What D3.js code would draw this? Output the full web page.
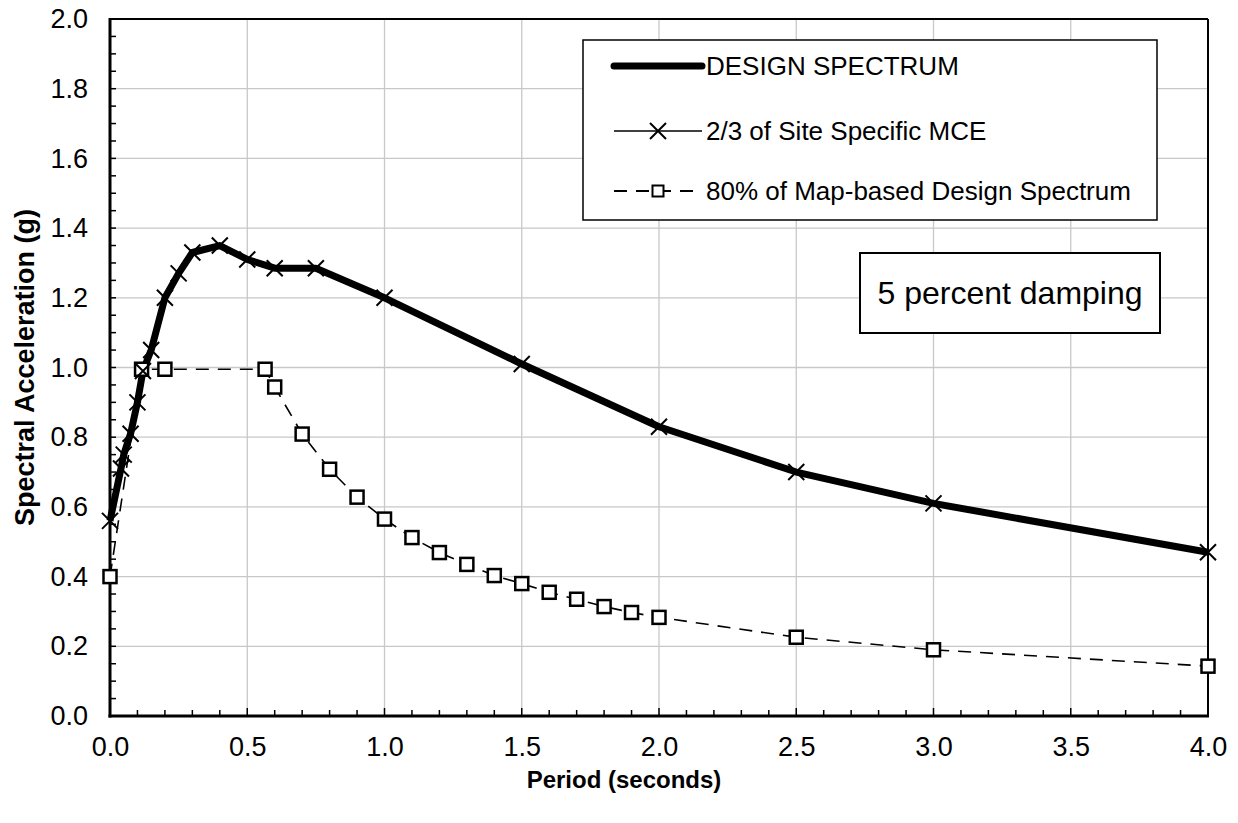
<!DOCTYPE html>
<html>
<head>
<meta charset="utf-8">
<script src="https://cdn.jsdelivr.net/npm/d3@7"></script>
<style>
  body { margin: 0; background: #fff; }
  svg { font-family: "Liberation Sans", Arial, sans-serif; }
</style>
</head>
<body>
<div id="chart"></div>
<script>
// data
const designPeriod = [0, 0.04, 0.05, 0.075, 0.1, 0.12, 0.15, 0.2, 0.25, 0.3, 0.4, 0.5, 0.6, 0.75, 1.0, 1.5, 2.0, 2.5, 3.0, 4.0];
const designSa     = [0.56, 0.71, 0.75, 0.81, 0.90, 0.99, 1.05, 1.20, 1.27, 1.33, 1.35, 1.31, 1.285, 1.285, 1.20, 1.01, 0.83, 0.70, 0.61, 0.47];

const mcePeriod = [0, 0.04, 0.05, 0.075, 0.1, 0.12, 0.15, 0.2, 0.25, 0.3, 0.4, 0.5, 0.6, 0.75, 1.0, 1.5, 2.0, 2.5, 3.0, 4.0];
const mceSa     = [0.56, 0.71, 0.75, 0.81, 0.90, 0.99, 1.05, 1.20, 1.27, 1.33, 1.35, 1.31, 1.285, 1.285, 1.20, 1.01, 0.83, 0.70, 0.61, 0.47];

const mapPeriod = [0, 0.115, 0.2, 0.565, 0.6, 0.7, 0.8, 0.9, 1.0, 1.1, 1.2, 1.3, 1.4, 1.5, 1.6, 1.7, 1.8, 1.9, 2.0, 2.5, 3.0, 4.0];
const mapSa     = [0.40, 0.995, 0.995, 0.995, 0.944, 0.809, 0.708, 0.628, 0.565, 0.512, 0.469, 0.435, 0.403, 0.38, 0.355, 0.335, 0.314, 0.297, 0.283, 0.226, 0.19, 0.143];

const xTicks = [0, 0.5, 1.0, 1.5, 2.0, 2.5, 3.0, 3.5, 4.0];
const yTicks = [0, 0.2, 0.4, 0.6, 0.8, 1.0, 1.2, 1.4, 1.6, 1.8, 2.0];

const legendLabels = ["DESIGN SPECTRUM", "2/3 of Site Specific MCE", "80% of Map-based Design Spectrum"];
const noteText = "5 percent damping";

//size
const width = 1238, height = 823;
const margin = { top: 19, right: 30, bottom: 107, left: 110 };
const innerWidth = width - margin.left - margin.right;
const innerHeight = height - margin.top - margin.bottom;

const svg = d3.select("#chart").append("svg")
  .attr("width", width)
  .attr("height", height);

const x = d3.scaleLinear().domain([0, 4]).range([margin.left, margin.left + innerWidth]);
const y = d3.scaleLinear().domain([0, 2]).range([margin.top + innerHeight, margin.top]);

//grid
svg.append("g").selectAll("line").data(xTicks.slice(1, -1)).join("line")
  .attr("x1", d => x(d)).attr("x2", d => x(d))
  .attr("y1", y(0)).attr("y2", y(2))
  .attr("stroke", "#c8c8c8").attr("stroke-width", 1.3);
svg.append("g").selectAll("line").data(yTicks.slice(1, -1)).join("line")
  .attr("x1", x(0)).attr("x2", x(4))
  .attr("y1", d => y(d)).attr("y2", d => y(d))
  .attr("stroke", "#c8c8c8").attr("stroke-width", 1.3);

//axes
const xAxis = d3.axisBottom(x).tickValues(xTicks).tickFormat(d3.format(".1f")).tickSize(0).tickPadding(21);
const yAxis = d3.axisLeft(y).tickValues(yTicks).tickFormat(d3.format(".1f")).tickSize(0).tickPadding(22);

const gx = svg.append("g").attr("transform", `translate(0,${y(0)})`).call(xAxis);
const gy = svg.append("g").attr("transform", `translate(${x(0)},0)`).call(yAxis);
[gx, gy].forEach(g => {
  g.select(".domain").remove();
  g.attr("font-size", 27).attr("font-family", "'Liberation Sans', Arial, sans-serif");
  g.selectAll("text").attr("fill", "#000");
});

// minor ticks (inside)
svg.append("g").selectAll("line").data(d3.range(1, 40)).join("line")
  .attr("x1", d => x(d / 10)).attr("x2", d => x(d / 10))
  .attr("y1", y(0)).attr("y2", d => y(0) - (d % 5 === 0 ? 8 : 6))
  .attr("stroke", "#000").attr("stroke-width", 1.5);
svg.append("g").selectAll("line").data(d3.range(1, 40)).join("line")
  .attr("x1", x(0)).attr("x2", x(0) + 6)
  .attr("y1", d => y(d / 20)).attr("y2", d => y(d / 20))
  .attr("stroke", "#000").attr("stroke-width", 1.5);

// frame
svg.append("line").attr("x1", x(0)).attr("x2", x(4)).attr("y1", y(2)).attr("y2", y(2))
  .attr("stroke", "#000").attr("stroke-width", 2);
svg.append("line").attr("x1", x(4)).attr("x2", x(4)).attr("y1", y(2)).attr("y2", y(0))
  .attr("stroke", "#000").attr("stroke-width", 2);
svg.append("line").attr("x1", x(0)).attr("x2", x(0)).attr("y1", y(2) - 1).attr("y2", y(0) + 1.5)
  .attr("stroke", "#000").attr("stroke-width", 3);
svg.append("line").attr("x1", x(0) - 1.5).attr("x2", x(4) + 1).attr("y1", y(0)).attr("y2", y(0))
  .attr("stroke", "#000").attr("stroke-width", 3);

//axis titles
svg.append("text")
  .attr("x", 624).attr("y", 788)
  .attr("text-anchor", "middle").attr("font-size", 24).attr("font-weight", "bold")
  .text("Period (seconds)");
svg.append("text")
  .attr("transform", `translate(34,${(y(0) + y(2)) / 2}) rotate(-90)`)
  .attr("text-anchor", "middle").attr("font-size", 27).attr("font-weight", "bold")
  .text("Spectral Acceleration (g)");

//lines
const line = d3.line().x(d => x(d[0])).y(d => y(d[1]));
const design = d3.zip(designPeriod, designSa);
const mce = d3.zip(mcePeriod, mceSa);
const map = d3.zip(mapPeriod, mapSa);

svg.append("path").datum(design)
  .attr("d", line).attr("fill", "none").attr("stroke", "#000")
  .attr("stroke-width", 7).attr("stroke-linejoin", "round");

svg.append("path").datum(map)
  .attr("d", line).attr("fill", "none").attr("stroke", "#000")
  .attr("stroke-width", 1.6).attr("stroke-dasharray", "13,9");

svg.append("path").datum(mce)
  .attr("d", line).attr("fill", "none").attr("stroke", "#000")
  .attr("stroke-width", 1.6);

const sq = 13;
svg.append("g").selectAll("rect").data(map).join("rect")
  .attr("x", d => x(d[0]) - sq / 2).attr("y", d => y(d[1]) - sq / 2)
  .attr("width", sq).attr("height", sq)
  .attr("fill", "#fff").attr("stroke", "#000").attr("stroke-width", 2.5);

const cross = "M-8,-8L8,8M-8,8L8,-8";
svg.append("g").selectAll("path").data(mce).join("path")
  .attr("transform", d => `translate(${x(d[0])},${y(d[1])})`)
  .attr("d", cross).attr("stroke", "#000").attr("stroke-width", 2);

//legend
const lg = svg.append("g");
lg.append("rect").attr("x", 583).attr("y", 40).attr("width", 574).attr("height", 180)
  .attr("fill", "#fff").attr("stroke", "#000").attr("stroke-width", 1.5);
const rowY = [66, 131, 191];
const sx0 = 614, sx1 = 702;
lg.append("line").attr("x1", sx0).attr("x2", sx1).attr("y1", rowY[0]).attr("y2", rowY[0])
  .attr("stroke", "#000").attr("stroke-width", 7).attr("stroke-linecap", "round");
lg.append("line").attr("x1", sx0).attr("x2", sx1).attr("y1", rowY[1]).attr("y2", rowY[1])
  .attr("stroke", "#000").attr("stroke-width", 1.6);
lg.append("path").attr("transform", `translate(${(sx0 + sx1) / 2},${rowY[1]})`)
  .attr("d", cross).attr("stroke", "#000").attr("stroke-width", 2);
lg.append("line").attr("x1", sx0).attr("x2", sx1).attr("y1", rowY[2]).attr("y2", rowY[2])
  .attr("stroke", "#000").attr("stroke-width", 2).attr("stroke-dasharray", "13,9");
lg.append("rect").attr("x", (sx0 + sx1) / 2 - 5.5).attr("y", rowY[2] - 5.5)
  .attr("width", 11).attr("height", 11)
  .attr("fill", "#fff").attr("stroke", "#000").attr("stroke-width", 2);
lg.selectAll("text.lbl").data(legendLabels).join("text")
  .attr("class", "lbl")
  .attr("x", 706).attr("y", (d, i) => rowY[i])
  .attr("dy", "0.35em").attr("font-size", 26)
  .text(d => d);

//note box
svg.append("rect").attr("x", 860).attr("y", 253).attr("width", 300).attr("height", 80)
  .attr("fill", "#fff").attr("stroke", "#000").attr("stroke-width", 2);
svg.append("text").attr("x", 1010).attr("y", 293).attr("dy", "0.35em")
  .attr("text-anchor", "middle").attr("font-size", 32)
  .text(noteText);
</script>
</body>
</html>
